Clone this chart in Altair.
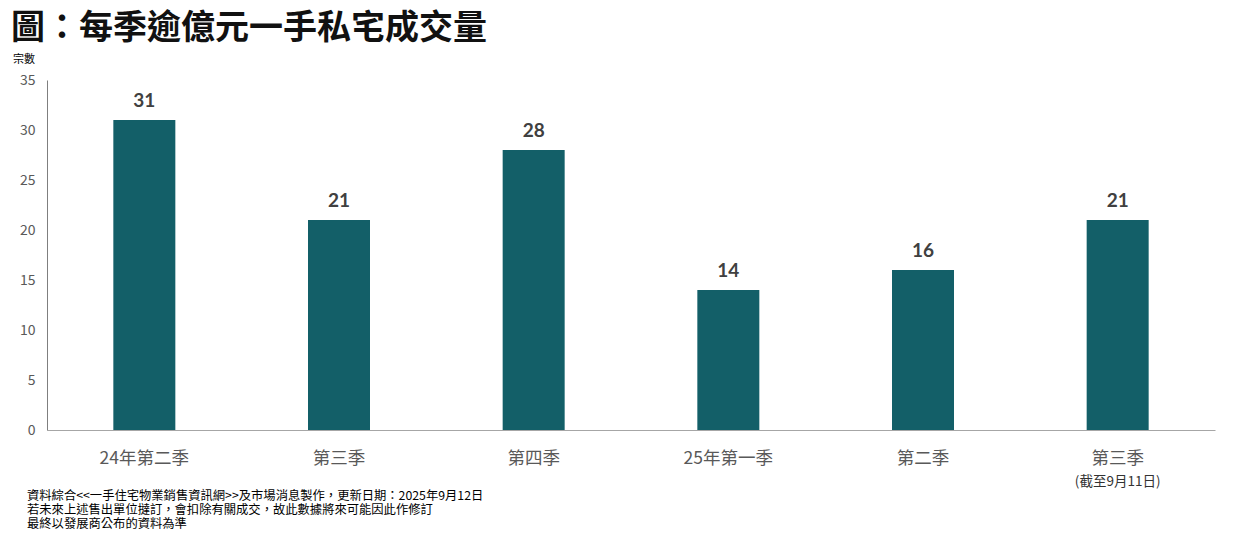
import altair as alt
import pandas as pd

quarters = ["2024Q2", "2024Q3", "2024Q4", "2025Q1", "2025Q2", "2025Q3"]
quarter_labels = ["24年第二季", "第三季", "第四季", "25年第一季", "第二季", "第三季"]
deals = [31, 21, 28, 14, 16, 21]
y_ticks = [0, 5, 10, 15, 20, 25, 30, 35]

title_text = "圖：每季逾億元一手私宅成交量"
y_title = "宗數"
last_note = "(截至9月11日)"
footnotes = [
    "資料綜合<<一手住宅物業銷售資訊網>>及市場消息製作，更新日期：2025年9月12日",
    "若未來上述售出單位撻訂，會扣除有關成交，故此數據將來可能因此作修訂",
    "最終以發展商公布的資料為準",
]

df = pd.DataFrame({"q": quarters, "v": deals})
label_map = "{" + ",".join(f"'{q}':'{l}'" for q, l in zip(quarters, quarter_labels)) + "}"

FONT = "Noto Sans CJK TC"
W, H = 1168, 350

x_enc = alt.X(
    "q:N", sort=quarters, title=None,
    scale=alt.Scale(paddingInner=0, paddingOuter=0),
    axis=alt.Axis(
        labelExpr=f"{label_map}[datum.value]", labelAngle=0, labelFontSize=17.5,
        labelColor="#595959", labelFont=FONT, labelFontWeight="normal",
        labelPadding=19, ticks=False,
        domainColor="#A6A6A6", domainWidth=1.2,
    ),
)
y_enc = alt.Y(
    "v:Q", title=None, scale=alt.Scale(domain=[0, 35], nice=False),
    axis=alt.Axis(values=y_ticks, grid=False, ticks=False, labelFontSize=14,
                  labelColor="#595959", labelFont=FONT, labelPadding=12,
                  domainColor="#7F7F7F", domainWidth=1),
)

base = alt.Chart(df)
bars = base.mark_bar(size=62, color="#135F68").encode(x=x_enc, y=y_enc)
vals = base.mark_text(baseline="bottom", dy=-9, fontSize=19, fontWeight="bold",
                      color="#404040", font="Lato").encode(
    x=alt.X("q:N", sort=quarters), y="v:Q", text="v:Q")

note_df = pd.DataFrame({"q": [quarters[-1]], "t": [last_note]})
note = alt.Chart(note_df).mark_text(fontSize=13.5, color="#333333", font=FONT).encode(
    x=alt.X("q:N", sort=quarters), y=alt.value(H + 52), text="t:N")

title = alt.Chart(pd.DataFrame({"t": [title_text]})).mark_text(
    align="left", baseline="middle", fontSize=34, fontWeight="bold",
    color="#111111", font=FONT).encode(x=alt.value(-36), y=alt.value(-51), text="t:N")

ytitle = alt.Chart(pd.DataFrame({"t": [y_title]})).mark_text(
    align="left", baseline="middle", fontSize=11, color="#000000", font=FONT).encode(
    x=alt.value(-34), y=alt.value(-20), text="t:N")

fn_layers = []
for i, line in enumerate(footnotes):
    fn_layers.append(
        alt.Chart(pd.DataFrame({"t": [line]})).mark_text(
            align="left", baseline="middle", fontSize=12.3, color="#000000", font=FONT
        ).encode(x=alt.value(-20), y=alt.value(H + 66 + 14 * i), text="t:N")
    )

chart = alt.layer(bars, vals, note, title, ytitle, *fn_layers).properties(
    width=W, height=H,
    padding={"left": 39, "top": 72, "right": 24, "bottom": 100},
    autosize=alt.AutoSizeParams(type="none"),
    background="white",
).configure_view(stroke=None)

chart.save("out.html", embed_options={"renderer": "svg", "actions": False})
